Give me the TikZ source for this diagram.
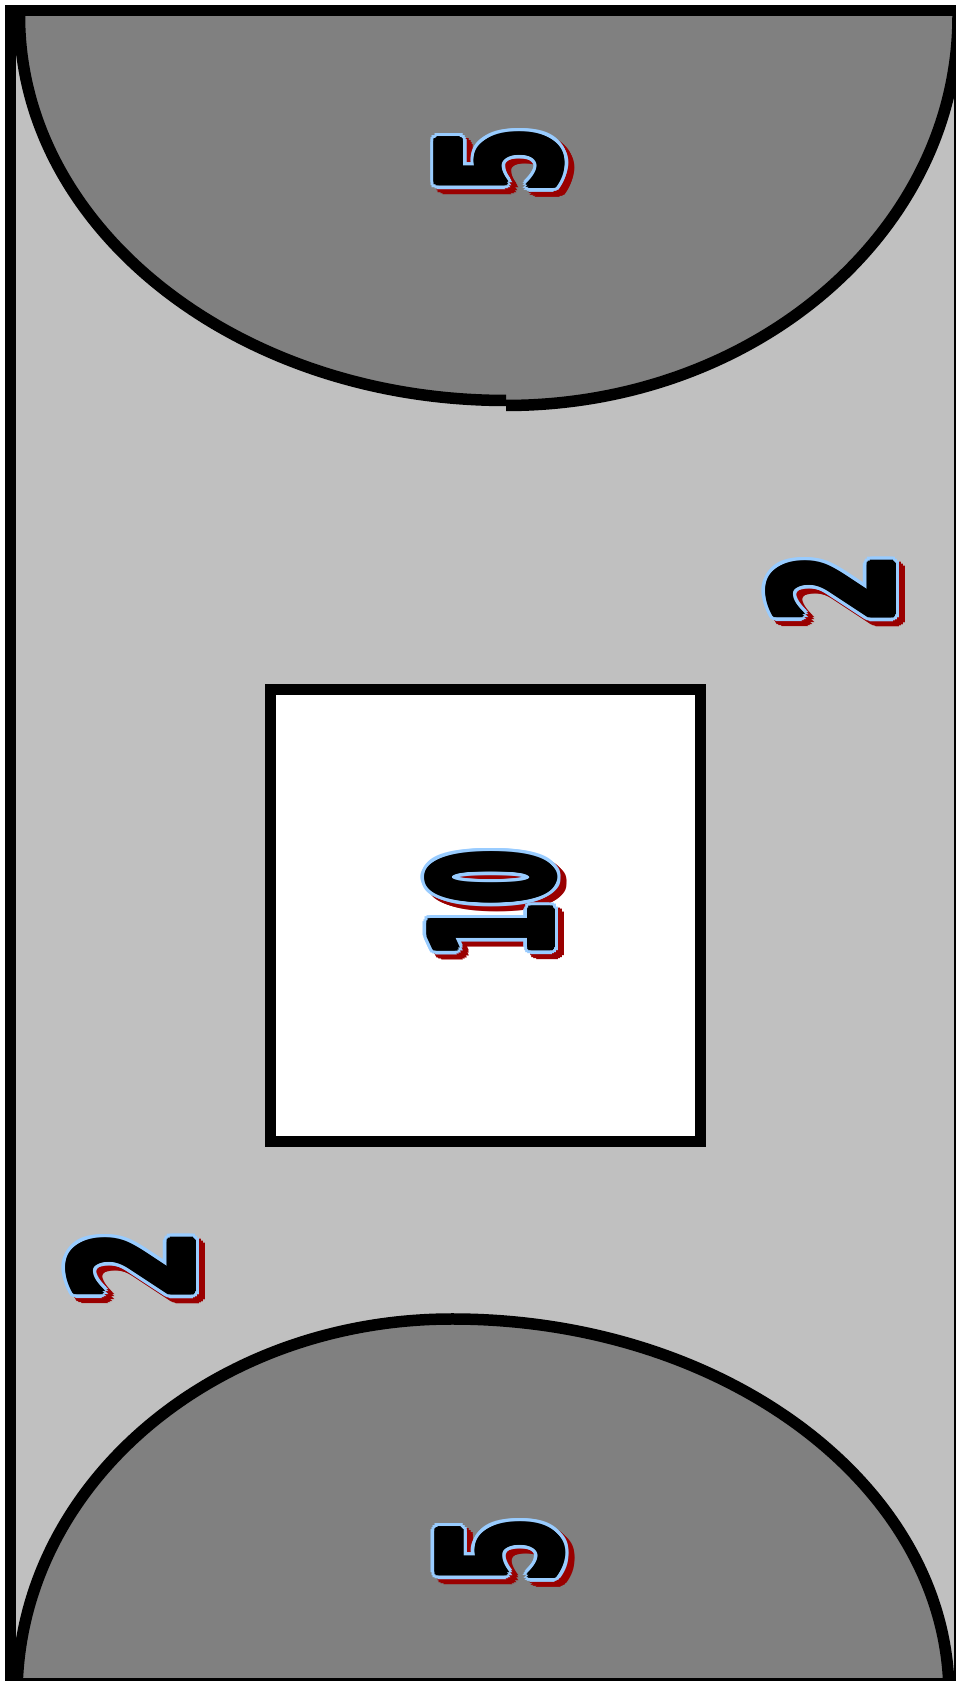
\documentclass[tikz,border=0pt]{standalone}
\usepackage{fontspec}
\newfontfamily\numfont{DejaVu Sans}
\usetikzlibrary{calc}
\definecolor{fieldgrey}{HTML}{C0C0C0}
\definecolor{zonegrey}{HTML}{808080}
\definecolor{outlineblue}{HTML}{99CCFF}
\definecolor{shadowred}{HTML}{9A0000}
\tikzset{
  numtext/.style={rotate=90, inner sep=0pt, outer sep=0pt},
  frameline/.style={draw=black, line width=11*0.5pt},
  zoneline/.style={draw=black, line width=11.5*0.5pt},
}
\newcommand{\numbox}[2]{\scalebox{#1}[1]{\numfont\bfseries\fontsize{84}{88}\selectfont #2}}
\newcommand{\fancynum}[5]{%
  \foreach \a [count=\i] in {0,22.5,...,337.5}{
    \node[numtext, text=shadowred] (#1-s\i) at ($(#2,#3)+(6,-5)+(\a:6.5)$) {\numbox{#4}{#5}};
  }
  \foreach \a [count=\i] in {0,22.5,...,337.5}{
    \node[numtext, text=outlineblue] (#1-o\i) at ($(#2,#3)+(\a:6.5)$) {\numbox{#4}{#5}};
  }
  \foreach \a [count=\i] in {0,30,...,330}{
    \node[numtext, text=black] (#1-b\i) at ($(#2,#3)+(\a:3)$) {\numbox{#4}{#5}};
  }
  \node[numtext, text=black] (#1) at (#2,#3) {\numbox{#4}{#5}};
}
\begin{document}
\begin{tikzpicture}[x=0.5pt,y=0.5pt]
\useasboundingbox (0,0) rectangle (956,1681);
\clip (0,0) rectangle (956,1681);
\fill[white] (0,0) rectangle (956,1681);
% playing field
\fill[fieldgrey] (10.5,-3) rectangle (959.5,1670.5);
% top zone
\fill[zonegrey] (19.5,1665) arc[start angle=180,end angle=270,x radius=486.5,y radius=384.5]
  -- (506,1275.5) arc[start angle=270,end angle=360,x radius=452,y radius=389.5] -- cycle;
\draw[zoneline] (19.5,1665) arc[start angle=180,end angle=270,x radius=486.5,y radius=384.5];
\draw[zoneline] (506,1275.5) arc[start angle=270,end angle=360,x radius=452,y radius=389.5];
% bottom zone
\fill[zonegrey] (17,-14) arc[start angle=180,end angle=90,x radius=435,y radius=376]
  arc[start angle=90,end angle=0,x radius=497,y radius=376] -- cycle;
\draw[zoneline] (17,-14) arc[start angle=180,end angle=90,x radius=435,y radius=376];
\draw[zoneline] (452,362) arc[start angle=90,end angle=0,x radius=497,y radius=376];
% centre square
\draw[frameline, fill=white] (270.5,539) rectangle (700.5,991.5);
% frame
\draw[frameline] (10.5,-3) rectangle (959.5,1670.5);
% numbers
\fancynum{ntop}{499.5}{1520.5}{0.55}{5}
\fancynum{nbot}{500}{130.5}{0.55}{5}
\fancynum{nright}{831}{1092}{0.58}{2}
\fancynum{nleft}{131}{415}{0.58}{2}
\fancynum{nmid}{491}{777}{0.45}{10}
\end{tikzpicture}
\end{document}
